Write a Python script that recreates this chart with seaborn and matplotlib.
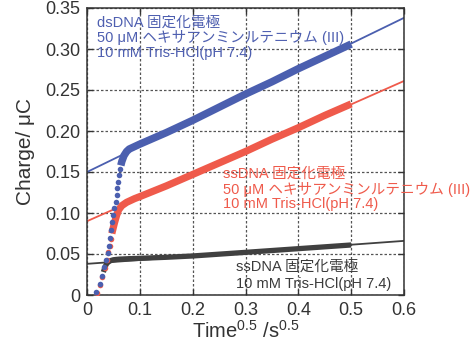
import matplotlib
matplotlib.use("Agg")
import matplotlib.pyplot as plt
import seaborn as sns

# --- measured charge vs sqrt(time) ---------------------------------------
# dsDNA electrode + Ru(NH3)6 3+ : early sparse samples, then the dense record
ds_ru_rise_x = [0.0177, 0.024, 0.028, 0.033, 0.036, 0.039, 0.042, 0.044, 0.046, 0.048,
                0.050, 0.052, 0.054, 0.056, 0.057, 0.059, 0.061, 0.063]
ds_ru_rise_y = [0.004, 0.013, 0.023, 0.034, 0.043, 0.051, 0.060, 0.069, 0.079, 0.089,
                0.098, 0.106, 0.114, 0.122, 0.130, 0.138, 0.146, 0.154]
ds_ru_band_x = [0.064, 0.066, 0.070, 0.075, 0.080, 0.090, 0.100, 0.150, 0.200, 0.250,
                0.300, 0.350, 0.400, 0.450, 0.500]
ds_ru_band_y = [0.158, 0.163, 0.170, 0.175, 0.178, 0.181, 0.184, 0.198, 0.213, 0.229,
                0.245, 0.260, 0.276, 0.291, 0.306]

# ssDNA electrode + Ru(NH3)6 3+
ss_ru_rise_x = [0.018, 0.024, 0.029, 0.034, 0.037, 0.040, 0.043, 0.045]
ss_ru_rise_y = [0.003, 0.012, 0.022, 0.033, 0.043, 0.052, 0.060, 0.068]
ss_ru_band_x = [0.047, 0.052, 0.056, 0.060, 0.066, 0.075, 0.090, 0.100, 0.150, 0.200,
                0.250, 0.300, 0.350, 0.400, 0.450, 0.500]
ss_ru_band_y = [0.075, 0.088, 0.097, 0.104, 0.109, 0.113, 0.1175, 0.120, 0.133, 0.147,
                0.161, 0.175, 0.190, 0.204, 0.219, 0.233]

# ssDNA electrode, buffer only
ss_buf_x = [0.031, 0.034, 0.037, 0.040, 0.045, 0.050, 0.060, 0.080, 0.100, 0.150,
            0.200, 0.300, 0.400, 0.500]
ss_buf_y = [0.028, 0.034, 0.038, 0.040, 0.042, 0.043, 0.0437, 0.0443, 0.0447, 0.046,
            0.0476, 0.052, 0.0565, 0.061]

# linear fits (Anson plot) evaluated at the axis ends
fit_x = [0.0, 0.6]
ds_ru_fit = [0.150, 0.338]
ss_ru_fit = [0.090, 0.261]
ss_buf_fit = [0.038, 0.066]

x_ticks = [0, 0.1, 0.2, 0.3, 0.4, 0.5, 0.6]
x_tick_labels = ["0", "0.1", "0.2", "0.3", "0.4", "0.5", "0.6"]
y_ticks = [0, 0.05, 0.10, 0.15, 0.20, 0.25, 0.30, 0.35]
y_tick_labels = ["0", "0.05", "0.10", "0.15", "0.20", "0.25", "0.30", "0.35"]

ds_ru_label = ["dsDNA 固定化電極", "50 μM ヘキサアンミンルテニウム (III)", "10 mM Tris-HCl(pH 7.4)"]
ss_ru_label = ["ssDNA 固定化電極", "50 μM ヘキサアンミンルテニウム (III)", "10 mM Tris-HCl(pH 7.4)"]
ss_buf_label = ["ssDNA 固定化電極", "10 mM Tris-HCl(pH 7.4)"]

BLUE = "#4B5FAF"
RED = "#EF5A4B"
DARK = "#404040"

sns.set_theme(style="ticks")
plt.rcParams["font.family"] = ["Liberation Sans", "Noto Sans CJK JP", "DejaVu Sans"]
plt.rcParams["mathtext.fontset"] = "custom"
plt.rcParams["mathtext.rm"] = "Liberation Sans"
plt.rcParams["mathtext.it"] = "Liberation Sans:italic"

fig, ax = plt.subplots(figsize=(4.75, 3.46), dpi=100)
fig.subplots_adjust(left=87 / 475, right=404 / 475, bottom=(346 - 295) / 346, top=(346 - 8) / 346)

# fit lines underneath the data
for fit, col in [(ss_buf_fit, DARK), (ss_ru_fit, RED), (ds_ru_fit, BLUE)]:
    sns.lineplot(x=fit_x, y=fit, ax=ax, color=col, linewidth=1.3,
                 sort=False, estimator=None, zorder=2)

# buffer-only record
sns.lineplot(x=ss_buf_x, y=ss_buf_y, ax=ax, color=DARK, linewidth=3.8,
             sort=False, estimator=None, zorder=3, solid_capstyle="butt")

# ssDNA + Ru
sns.lineplot(x=ss_ru_band_x, y=ss_ru_band_y, ax=ax, color=RED, linewidth=5.2,
             sort=False, estimator=None, zorder=4, solid_capstyle="butt")
sns.scatterplot(x=ss_ru_rise_x, y=ss_ru_rise_y, ax=ax, color=RED, s=16,
                linewidth=0, zorder=4)

# dsDNA + Ru
sns.lineplot(x=ds_ru_band_x, y=ds_ru_band_y, ax=ax, color=BLUE, linewidth=5.4,
             sort=False, estimator=None, zorder=5, solid_capstyle="butt")
sns.scatterplot(x=ds_ru_rise_x, y=ds_ru_rise_y, ax=ax, color=BLUE, s=16,
                linewidth=0, zorder=5)

ax.set_xlim(0, 0.6)
ax.set_ylim(0, 0.35)
ax.set_xticks(x_ticks)
ax.set_xticklabels(x_tick_labels)
ax.set_yticks(y_ticks)
ax.set_yticklabels(y_tick_labels)
ax.tick_params(direction="in", top=True, right=True, length=4, width=1,
               labelsize=13, labelcolor="#333333", color="#333333", pad=5)
ax.grid(True, linestyle=(0, (2, 1.6)), color="#555555", linewidth=0.9)
for sp in ax.spines.values():
    sp.set_color("#333333")
    sp.set_linewidth(1.1)

ax.set_xlabel("Time$^{0.5}$ /s$^{0.5}$", fontsize=14.5, color="#333333", labelpad=1)
ax.set_ylabel("Charge/ μC", fontsize=15, color="#333333", labelpad=7)


def text_block(lines, x, y_first, color, step=15.2):
    for i, line in enumerate(lines):
        ax.annotate(line, xy=(x, y_first), xycoords="data",
                    xytext=(0, -i * step * 0.72), textcoords="offset points",
                    fontsize=10.5, color=color, va="center", ha="left", zorder=6)


text_block(ds_ru_label, 0.019, 0.332, "#4E5FB0")
text_block(ss_ru_label, 0.258, 0.1476, "#EF5A4B")
text_block(ss_buf_label, 0.282, 0.0341, "#3A3A3A", step=17)

fig.savefig("out.png", dpi=100)
